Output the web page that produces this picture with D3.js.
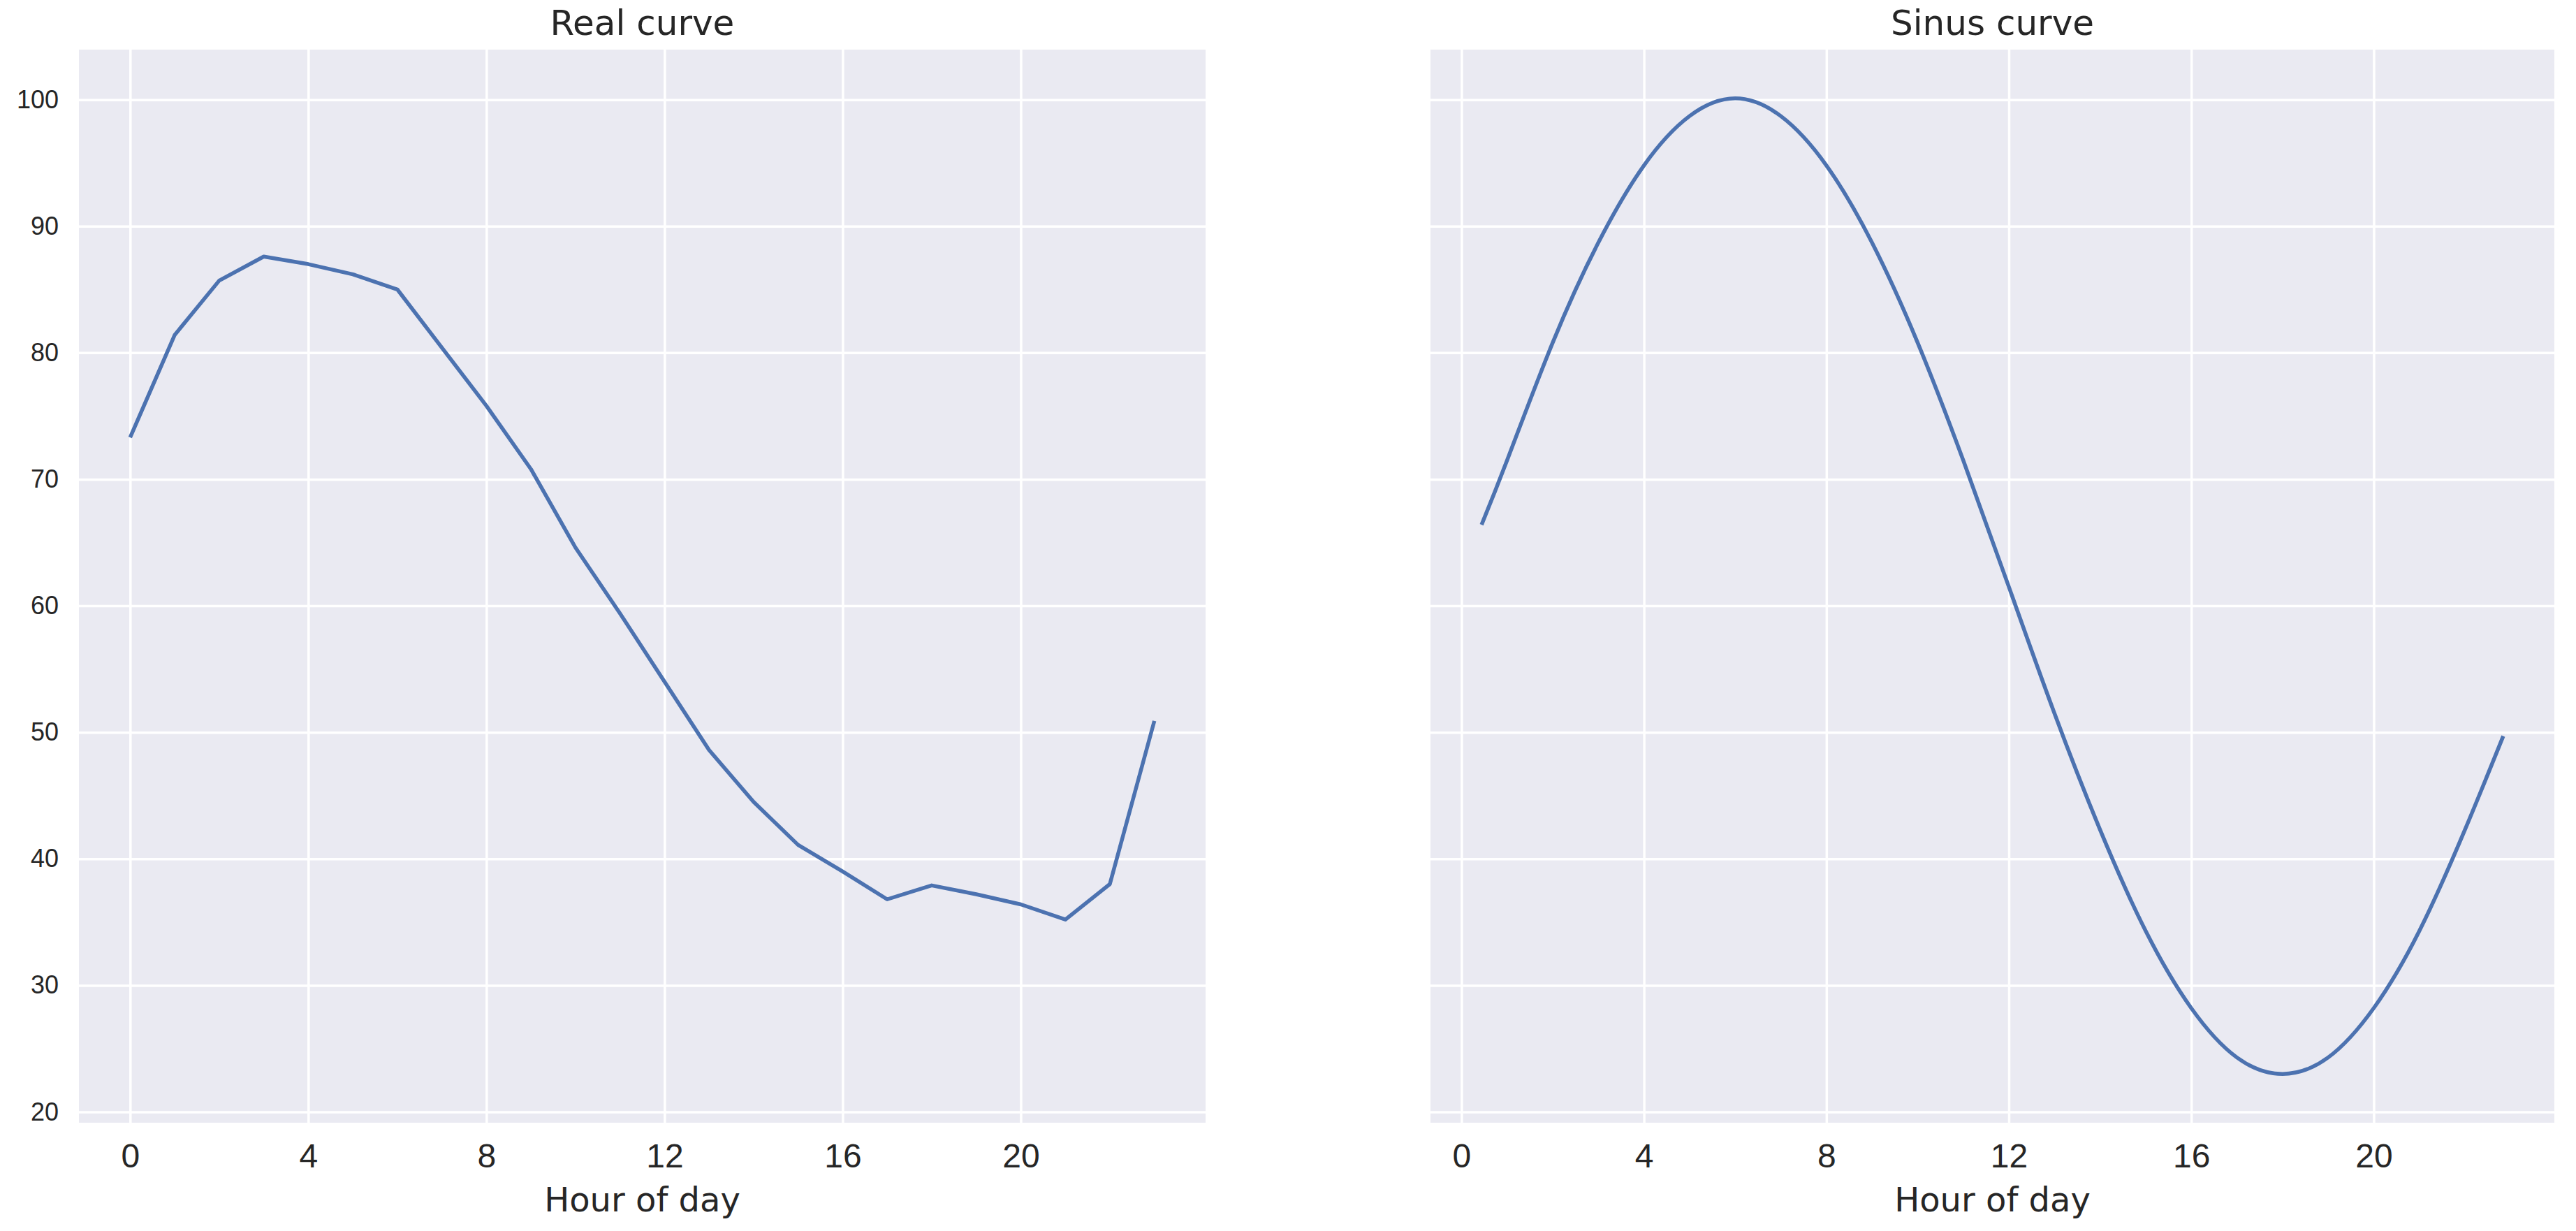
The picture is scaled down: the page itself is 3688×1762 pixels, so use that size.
<!DOCTYPE html>
<html>
<head>
<meta charset="utf-8">
<script src="https://cdn.jsdelivr.net/npm/d3@7"></script>
<style>
  html, body { margin: 0; padding: 0; background: #fff; }
  svg { display: block; font-family: "DejaVu Sans", sans-serif; }
  .tick text { fill: #262626; }
  .grid line { stroke: #fff; stroke-width: 3.5; }
  .grid path, .axis path { display: none; }
</style>
</head>
<body>
<svg id="chart" width="3688" height="1762"></svg>
<script>
// hourly mean
const realHours = [0, 1, 2, 3, 4, 5, 6, 7, 8, 9, 10, 11, 12, 13, 14, 15, 16, 17, 18, 19, 20, 21, 22, 23];
const realValues = [73.3, 81.4, 85.7, 87.6, 87.0, 86.2, 85.0, 80.4, 75.8, 70.8, 64.6, 59.4, 54.0, 48.6, 44.5, 41.1, 39.0, 36.8, 37.9, 37.2, 36.4, 35.2, 38.0, 50.9];

// fitted curve
const sinusHours = [0.44, 1, 2, 3, 4, 5, 6, 7, 8, 9, 10, 11, 12, 13, 14, 15, 16, 17, 18, 19, 20, 21, 22, 22.84];
const sinusValues = [66.4, 71.5, 80.8, 88.7, 94.8, 98.7, 100.1, 98.7, 94.8, 88.7, 80.8, 71.5, 61.5, 51.5, 42.3, 34.3, 28.2, 24.3, 23.0, 24.3, 28.2, 34.3, 42.3, 49.7];

const xTicks = [0, 4, 8, 12, 16, 20];
const yTicks = [20, 30, 40, 50, 60, 70, 80, 90, 100];

const panels = [
  { title: "Real curve", hours: realHours, values: realValues, left: 113, right: 1726, yLabels: true, smooth: false },
  { title: "Sinus curve", hours: sinusHours, values: sinusValues, left: 2048, right: 3657, yLabels: false, smooth: true }
];

const plotTop = 71, plotBottom = 1607;
const lineColor = "#4C72B0";
const textColor = "#262626";

// matplotlib style 5% margins
const padded = (ext) => {
  const m = (ext[1] - ext[0]) * 0.05;
  return [ext[0] - m, ext[1] + m];
};

const svg = d3.select("#chart");

const allValues = realValues.concat(sinusValues);
const y = d3.scaleLinear()
  .domain(padded(d3.extent(allValues)))
  .range([plotBottom, plotTop]);

panels.forEach((p) => {
  const x = d3.scaleLinear()
    .domain(padded(d3.extent(p.hours)))
    .range([p.left, p.right]);

  const g = svg.append("g").attr("class", "panel");

  // background
  g.append("rect")
    .attr("x", p.left)
    .attr("y", plotTop)
    .attr("width", p.right - p.left)
    .attr("height", plotBottom - plotTop)
    .attr("fill", "#EAEAF2");

  /////////////////////////////////////////////////////////
  // GRID

  g.append("g")
    .attr("class", "grid")
    .attr("transform", `translate(0,${plotBottom})`)
    .call(d3.axisBottom(x).tickValues(xTicks).tickSize(-(plotBottom - plotTop)).tickFormat(""));

  g.append("g")
    .attr("class", "grid")
    .attr("transform", `translate(${p.left},0)`)
    .call(d3.axisLeft(y).tickValues(yTicks).tickSize(-(p.right - p.left)).tickFormat(""));

  /////////////////////////////////////////////////////////
  // AXES

  const xAxis = g.append("g")
    .attr("class", "axis")
    .attr("transform", `translate(0,${plotBottom})`)
    .call(d3.axisBottom(x).tickValues(xTicks).tickSize(0).tickPadding(30));
  xAxis.selectAll("text").attr("font-size", 48);

  if (p.yLabels) {
    const yAxis = g.append("g")
      .attr("class", "axis")
      .attr("transform", `translate(${p.left},0)`)
      .call(d3.axisLeft(y).tickValues(yTicks).tickSize(0).tickPadding(29));
    yAxis.selectAll("text").attr("font-size", 36);
  }

  /////////////////////////////////////////////////////////
  // LINE

  const line = d3.line()
    .x((d, i) => x(p.hours[i]))
    .y((d) => y(d))
    .curve(p.smooth ? d3.curveNatural : d3.curveLinear);

  g.append("path")
    .datum(p.values)
    .attr("d", line)
    .attr("fill", "none")
    .attr("stroke", lineColor)
    .attr("stroke-width", 5.5)
    .attr("stroke-linejoin", "round");

  /////////////////////////////////////////////////////////
  // TEXT

  const cx = (p.left + p.right) / 2;

  g.append("text")
    .attr("x", cx)
    .attr("y", 50)
    .attr("text-anchor", "middle")
    .attr("font-size", 50)
    .attr("fill", textColor)
    .text(p.title);

  g.append("text")
    .attr("x", cx)
    .attr("y", 1734)
    .attr("text-anchor", "middle")
    .attr("font-size", 48)
    .attr("fill", textColor)
    .text("Hour of day");
});
</script>
</body>
</html>
